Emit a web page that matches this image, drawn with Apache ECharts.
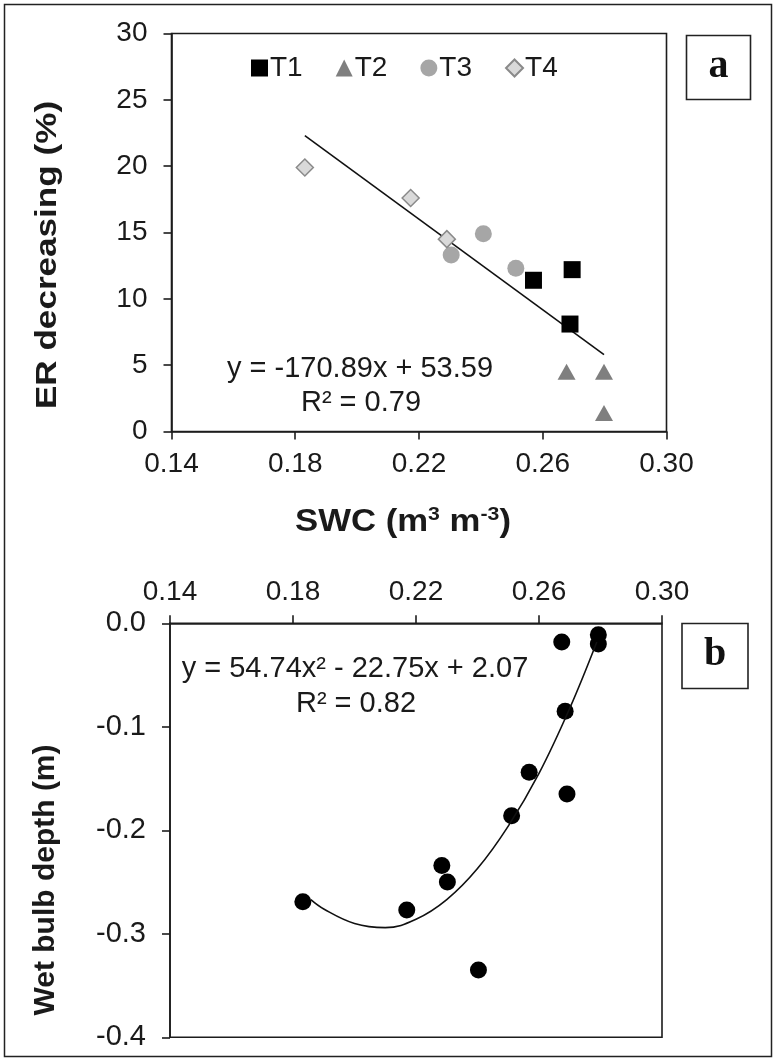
<!DOCTYPE html>
<html><head><meta charset="utf-8">
<script src="https://cdn.jsdelivr.net/npm/echarts@6/dist/echarts.min.js"></script>
<style>html,body{margin:0;padding:0;background:#fff}#c{width:776px;height:1061px}</style>
</head><body><div id="c"></div>
<script>
// ---------- data ----------
const swcTicks = [0.14, 0.18, 0.22, 0.26, 0.30];
const seriesNames = ['T1', 'T2', 'T3', 'T4'];
// panel a : SWC (x) vs ER decreasing % (y)
const t1X = [0.2570, 0.2695, 0.2688];
const t1Y = [11.4, 12.2, 8.1];
const t2X = [0.2677, 0.2798, 0.2798];
const t2Y = [4.5, 4.5, 1.4];
const t3X = [0.2408, 0.2304, 0.2513];
const t3Y = [14.9, 13.3, 12.3];
const t4X = [0.1831, 0.2173, 0.2290];
const t4Y = [19.9, 17.6, 14.5];
const fitAX = [0.1831, 0.2798];
const fitAY = [22.3, 5.8];
// panel b : SWC (x) vs wet bulb depth m (y)
const swcB = [0.2674, 0.2793, 0.2793, 0.2685, 0.2568, 0.2691, 0.2511, 0.2284, 0.2302, 0.1832, 0.2170, 0.2403];
const depthB = [-0.018, -0.011, -0.020, -0.085, -0.144, -0.165, -0.186, -0.234, -0.250, -0.269, -0.277, -0.335];
const fitBX = [0.1858, 0.190, 0.200, 0.210, 0.220, 0.230, 0.240, 0.250, 0.260, 0.270, 0.2788];
const fitBY = [-0.267, -0.276, -0.290, -0.294, -0.286, -0.267, -0.237, -0.196, -0.145, -0.082, -0.018];
const eqA = ['y = -170.89x + 53.59', 'R² = 0.79'];
const eqB = ['y = 54.74x² - 22.75x + 2.07', 'R² = 0.82'];

const zip = (xs, ys) => xs.map((x, i) => [x, ys[i]]);
const FONT = 'Liberation Sans';
const AX = '#1c1c1c';
const TXT = '#1a1a1a';

function xAxis(gridIndex, position, margin) {
  return {
    type: 'value', gridIndex, min: 0.14, max: 0.30, position,
    axisLine: {show: true, onZero: false, lineStyle: {color: AX, width: 1.6}},
    axisTick: {show: true, length: 8, customValues: swcTicks, lineStyle: {color: AX, width: 1.6}},
    axisLabel: {customValues: swcTicks, formatter: v => v.toFixed(2), fontSize: 28, fontFamily: FONT, color: TXT, margin,
                showMinLabel: true, showMaxLabel: true},
    splitLine: {show: false}
  };
}

const chart = echarts.init(document.getElementById('c'));
chart.setOption({
  animation: false,
  backgroundColor: '#fff',
  grid: [
    {left: 171.5, top: 33.5, width: 495, height: 398, show: true, borderColor: AX, borderWidth: 1.6, backgroundColor: 'rgba(0,0,0,0)'},
    {left: 170, top: 623.3, width: 492, height: 414, show: true, borderColor: AX, borderWidth: 1.6, backgroundColor: 'rgba(0,0,0,0)'}
  ],
  xAxis: [xAxis(0, 'bottom', 19), xAxis(1, 'top', 17)],
  yAxis: [
    {type: 'value', gridIndex: 0, min: 0, max: 30, interval: 5,
     axisLine: {show: true, onZero: false, lineStyle: {color: AX, width: 1.6}},
     axisTick: {show: true, length: 8, lineStyle: {color: AX, width: 1.6}},
     axisLabel: {fontSize: 28, fontFamily: FONT, color: TXT, margin: 24},
     splitLine: {show: false}},
    {type: 'value', gridIndex: 1, min: -0.4, max: 0, interval: 0.1,
     axisLine: {show: true, onZero: false, lineStyle: {color: AX, width: 1.6}},
     axisTick: {show: true, length: 8, lineStyle: {color: AX, width: 1.6}},
     axisLabel: {fontSize: 29, fontFamily: FONT, color: TXT, margin: 24, formatter: v => v.toFixed(1)},
     splitLine: {show: false}}
  ],
  legend: {
    data: seriesNames, left: 246, top: 49, itemWidth: 17, itemHeight: 17, itemGap: 33,
    textStyle: {fontSize: 28, fontFamily: FONT, color: TXT, padding: [0, 0, 0, -3]}
  },
  series: [
    {name: 'fitA', type: 'line', xAxisIndex: 0, yAxisIndex: 0, data: zip(fitAX, fitAY), showSymbol: false, symbol: 'none',
     lineStyle: {color: '#111', width: 1.6}, z: 1},
    {name: 'T1', type: 'scatter', xAxisIndex: 0, yAxisIndex: 0, data: zip(t1X, t1Y), symbol: 'rect', symbolSize: 17,
     itemStyle: {color: '#000', opacity: 1}, z: 3},
    {name: 'T2', type: 'scatter', xAxisIndex: 0, yAxisIndex: 0, data: zip(t2X, t2Y), symbol: 'triangle', symbolSize: [18, 16],
     itemStyle: {color: '#7f7f7f', opacity: 1}, z: 3},
    {name: 'T3', type: 'scatter', xAxisIndex: 0, yAxisIndex: 0, data: zip(t3X, t3Y), symbol: 'circle', symbolSize: 17,
     itemStyle: {color: '#a6a6a6', opacity: 1}, z: 3},
    {name: 'T4', type: 'scatter', xAxisIndex: 0, yAxisIndex: 0, data: zip(t4X, t4Y), symbol: 'diamond', symbolSize: [17, 17],
     itemStyle: {color: '#d9d9d9', borderColor: '#8a8a8a', borderWidth: 1.5, opacity: 1}, z: 3},
    {name: 'depth', type: 'scatter', xAxisIndex: 1, yAxisIndex: 1, data: zip(swcB, depthB), symbol: 'circle', symbolSize: 17,
     itemStyle: {color: '#000', opacity: 1}, z: 3},
    {name: 'fitB', type: 'line', xAxisIndex: 1, yAxisIndex: 1, data: zip(fitBX, fitBY), showSymbol: false, symbol: 'none', smooth: 0.4,
     lineStyle: {color: '#111', width: 1.6}, z: 4}
  ],
  graphic: [
    {type: 'rect', shape: {x: 4.5, y: 4.5, width: 767, height: 1052}, style: {fill: 'none', stroke: '#222', lineWidth: 1.5}, silent: true},
    {type: 'rect', shape: {x: 686.5, y: 35.5, width: 64, height: 64}, style: {fill: '#fff', stroke: '#222', lineWidth: 1.6}},
    {type: 'text', x: 718.5, y: 67, style: {text: 'a', font: 'bold 40px "Liberation Serif"', fill: '#111', align: 'center', verticalAlign: 'middle'}},
    {type: 'rect', shape: {x: 682, y: 623.5, width: 66, height: 65}, style: {fill: '#fff', stroke: '#222', lineWidth: 1.6}},
    {type: 'text', x: 715, y: 655, style: {text: 'b', font: 'bold 40px "Liberation Serif"', fill: '#111', align: 'center', verticalAlign: 'middle'}},
    // axis titles
    {type: 'text', x: 48, y: 255, rotation: Math.PI / 2, scaleX: 1.17,
     style: {text: 'ER decreasing (%)', font: 'bold 30px "Liberation Sans"', fill: TXT, align: 'center', verticalAlign: 'middle'}},
    {type: 'text', x: 46, y: 880, rotation: Math.PI / 2, scaleX: 1.0,
     style: {text: 'Wet bulb depth (m)', font: 'bold 30px "Liberation Sans"', fill: TXT, align: 'center', verticalAlign: 'middle'}},
    {type: 'text', x: 403, y: 522, scaleX: 1.12,
     style: {text: 'SWC (m{s|3} m{s|-3})', font: 'bold 31px "Liberation Sans"', fill: TXT, align: 'center', verticalAlign: 'middle',
             lineHeight: 34,
             rich: {s: {font: 'bold 19px "Liberation Sans"', fill: TXT, verticalAlign: 'top', lineHeight: 20}}}},
    // equations
    {type: 'text', x: 360, y: 369, style: {text: eqA[0], font: '29px "Liberation Sans"', fill: TXT, align: 'center', verticalAlign: 'middle'}},
    {type: 'text', x: 361, y: 403, style: {text: eqA[1], font: '29px "Liberation Sans"', fill: TXT, align: 'center', verticalAlign: 'middle'}},
    {type: 'text', x: 355, y: 669, style: {text: eqB[0], font: '29px "Liberation Sans"', fill: TXT, align: 'center', verticalAlign: 'middle'}},
    {type: 'text', x: 356, y: 704, style: {text: eqB[1], font: '29px "Liberation Sans"', fill: TXT, align: 'center', verticalAlign: 'middle'}}
  ]
});
</script></body></html>
